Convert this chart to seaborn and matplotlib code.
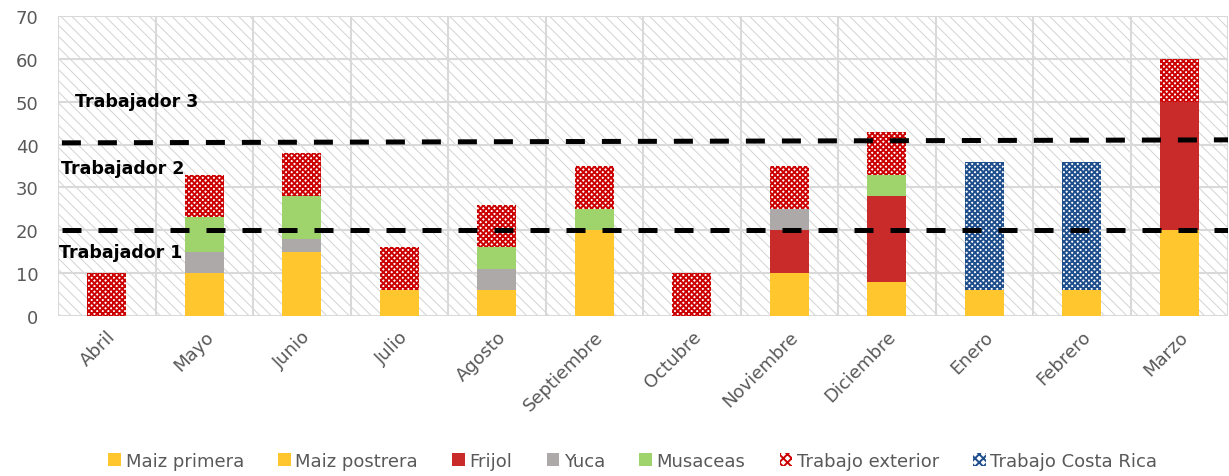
import matplotlib
matplotlib.use("Agg")
import matplotlib.pyplot as plt
import seaborn as sns
import numpy as np
from matplotlib.patches import Patch, Rectangle
from matplotlib.ticker import MultipleLocator, FixedLocator

# --- data -------------------------------------------------------------
months = ["Abril", "Mayo", "Junio", "Julio", "Agosto", "Septiembre",
          "Octubre", "Noviembre", "Diciembre", "Enero", "Febrero", "Marzo"]

maiz_primera = [0, 10, 15, 6, 6, 20, 0, 0, 0, 0, 0, 0]
maiz_postrera = [0, 0, 0, 0, 0, 0, 0, 10, 8, 6, 6, 20]
frijol = [0, 0, 0, 0, 0, 0, 0, 10, 20, 0, 0, 30]
yuca = [0, 5, 3, 0, 5, 0, 0, 5, 0, 0, 0, 0]
musaceas = [0, 8, 10, 0, 5, 5, 0, 0, 5, 0, 0, 0]
trabajo_exterior = [10, 10, 10, 10, 10, 10, 10, 10, 10, 0, 0, 10]
trabajo_costa_rica = [0, 0, 0, 0, 0, 0, 0, 0, 0, 30, 30, 0]

# labour capacity thresholds (start level, end level of each dashed line)
worker_lines = [(20.0, 20.0), (40.4, 41.1)]
worker_labels = ["Trabajador 1", "Trabajador 2", "Trabajador 3"]
worker_label_y = [14.9, 34.5, 50.2]
worker_label_x = [-0.49, -0.47, -0.33]

# --- styling ----------------------------------------------------------
series = [
    ("Maiz primera", maiz_primera, dict(color="#FFC62E", hatch=None)),
    ("Maiz postrera", maiz_postrera, dict(color="#FFC62E", hatch=None)),
    ("Frijol", frijol, dict(color="#C92B2B", hatch=None)),
    ("Yuca", yuca, dict(color="#ADA9A8", hatch=None)),
    ("Musaceas", musaceas, dict(color="#9FD46C", hatch=None)),
    ("Trabajo exterior", trabajo_exterior, dict(color="white", hatch="xxxxxx", hc="#CC0000")),
    ("Trabajo Costa Rica", trabajo_costa_rica, dict(color="white", hatch="xxxxxx", hc="#1F4E8C")),
]

sns.set_theme(style="white")
plt.rcParams["font.family"] = ["DejaVu Sans"]
plt.rcParams["hatch.linewidth"] = 1.4

fig = plt.figure(figsize=(12.29, 4.77), dpi=100)
ax = fig.add_axes([58 / 1229, 1 - 317 / 477, 1170 / 1229, 300 / 477])

# hatched plot-area background
with plt.rc_context({"hatch.linewidth": 0.7}):
    bg = Rectangle((0, 0), 1, 1, transform=ax.transAxes, facecolor="white",
                   edgecolor="#D3D3D3", hatch="\\\\\\", linewidth=0, zorder=0)
    ax.add_patch(bg)

bottom = np.zeros(len(months))
handles = []
for name, vals, st in series:
    vals = np.asarray(vals, dtype=float)
    kw = dict(color=st["color"], linewidth=0, width=0.4, saturation=1,
              order=months, ax=ax, zorder=2)
    if st["hatch"]:
        kw["hatch"] = st["hatch"]
        kw["edgecolor"] = st["hc"]
    sns.barplot(x=months, y=vals, bottom=bottom, **kw)
    bottom += vals
    if st["hatch"]:
        handles.append(Patch(facecolor="white", edgecolor=st["hc"], hatch="xxxx",
                             linewidth=0, label=name))
    else:
        handles.append(Patch(facecolor=st["color"], linewidth=0, label=name))

# dashed worker-capacity lines
for y0, y1 in worker_lines:
    ax.plot([-0.46, 11.5], [y0, y1], color="black", lw=3.6,
            dashes=(3.8, 3.4), zorder=4, solid_capstyle="butt",
            dash_capstyle="butt")

for txt, x, y in zip(worker_labels, worker_label_x, worker_label_y):
    ax.text(x, y, txt, fontsize=12.5, fontweight="bold", color="black",
            va="center", ha="left", zorder=5)

# axes, grid
ax.set_ylim(0, 70)
ax.set_xlim(-0.5, 11.5)
ax.yaxis.set_major_locator(MultipleLocator(10))
ax.xaxis.set_minor_locator(FixedLocator(np.arange(-0.5, 12, 1.0)))
ax.grid(True, which="major", axis="y", color="#D9D9D9", lw=1.5, zorder=1)
ax.grid(True, which="minor", axis="x", color="#D9D9D9", lw=1.5, zorder=1)
ax.set_axisbelow(True)
for s in ax.spines.values():
    s.set_visible(False)
ax.tick_params(axis="both", which="both", length=0)
ax.tick_params(axis="y", labelsize=13, labelcolor="#595959", pad=14)
ax.tick_params(axis="x", labelsize=13, labelcolor="#595959", pad=8)
ax.set_xlabel("")
ax.set_ylabel("")
plt.setp(ax.get_xticklabels(), rotation=45, ha="right", rotation_mode="anchor")

fig.legend(handles=handles, loc="center", bbox_to_anchor=(0.515, 1 - 462 / 477),
           ncol=7, frameon=False, fontsize=13, handlelength=0.7, handleheight=0.7,
           handletextpad=0.25, columnspacing=1.9, labelcolor="#595959")

fig.savefig("out.png", dpi=100)
